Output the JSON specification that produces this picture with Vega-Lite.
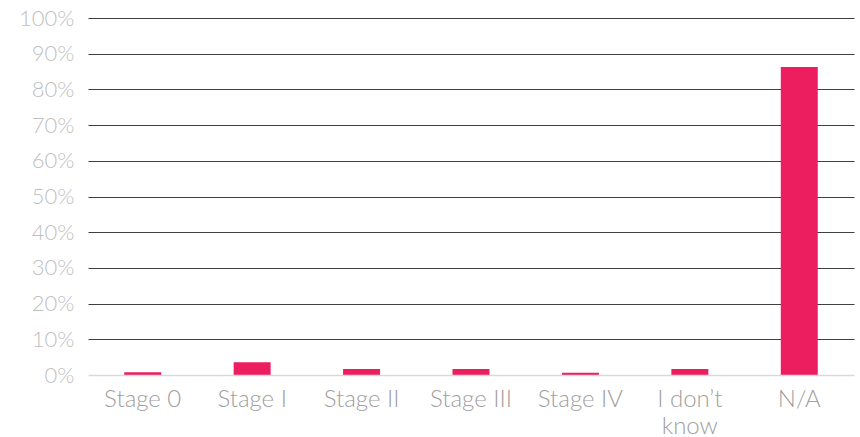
{
  "$schema": "https://vega.github.io/schema/vega-lite/v6.json",
  "width": 766,
  "height": 357,
  "autosize": {"type": "none"},
  "padding": {"left": 88, "top": 18, "right": 6, "bottom": 62},
  "background": "white",
  "config": {
    "view": {"stroke": null},
    "font": "Lato"
  },
  "data": {
    "values": [
      {"stage": "Stage 0", "pct": 0.008},
      {"stage": "Stage I", "pct": 0.036},
      {"stage": "Stage II", "pct": 0.017},
      {"stage": "Stage III", "pct": 0.017},
      {"stage": "Stage IV", "pct": 0.006},
      {"stage": "I don’t know", "pct": 0.017},
      {"stage": "N/A", "pct": 0.863}
    ]
  },
  "mark": {"type": "bar", "color": "#ED1E5F"},
  "encoding": {
    "x": {
      "field": "stage",
      "type": "nominal",
      "sort": null,
      "scale": {"paddingInner": 0.662, "paddingOuter": 0.331},
      "axis": {
        "title": null,
        "labelAngle": 0,
        "labelFont": "Lato",
        "labelFontWeight": 300,
        "labelFontSize": 24,
        "labelColor": "#A0A0A0",
        "labelPadding": 12,
        "labelLineHeight": 27,
        "labelExpr": "datum.label == 'I don’t know' ? ['I don’t', 'know'] : datum.label",
        "ticks": false,
        "domainColor": "#D9D9D9",
        "domainWidth": 1.5,
        "grid": false,
        "zindex": 1
      }
    },
    "y": {
      "field": "pct",
      "type": "quantitative",
      "scale": {"domain": [0, 1], "nice": false},
      "axis": {
        "title": null,
        "format": ".0%",
        "values": [0, 0.1, 0.2, 0.3, 0.4, 0.5, 0.6, 0.7, 0.8, 0.9, 1],
        "labelFont": "Lato",
        "labelFontWeight": 300,
        "labelFontSize": 22,
        "labelColor": "#BFBFBF",
        "labelPadding": 14,
        "ticks": false,
        "domain": false,
        "grid": true,
        "gridColor": {"condition": {"test": "datum.value === 0", "value": "transparent"}, "value": "#404040"},
        "gridWidth": 1
      }
    }
  }
}
